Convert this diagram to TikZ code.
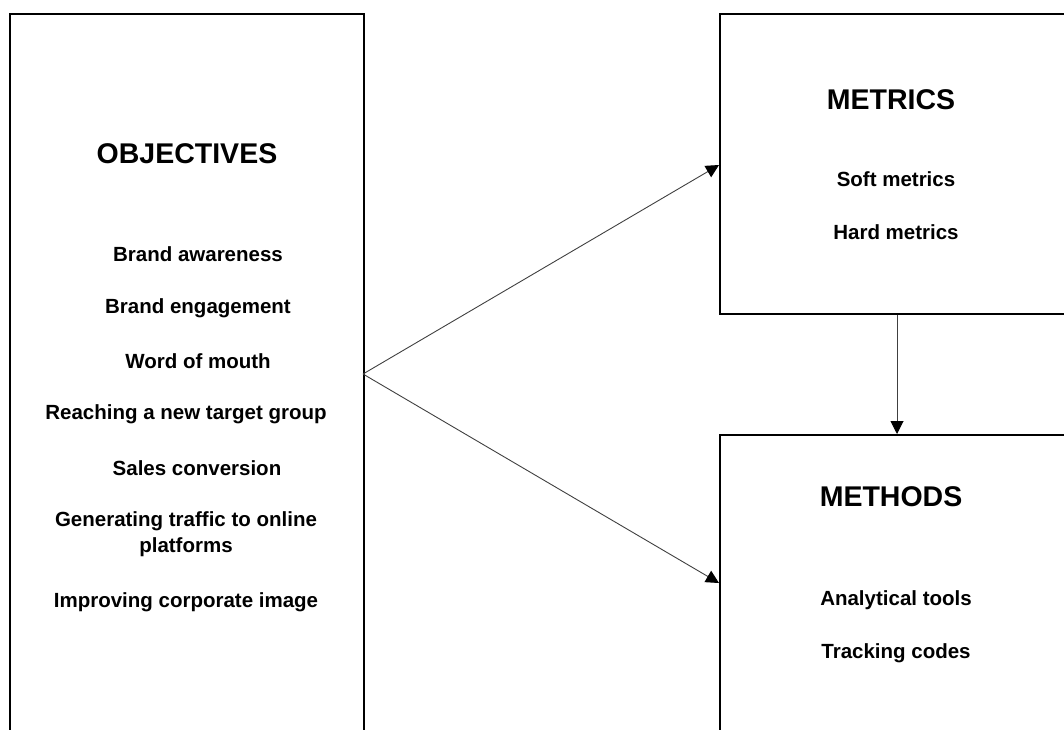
\documentclass[tikz,border=0pt]{standalone}
\usepackage{fontspec}
\setmainfont{Liberation Sans}
\usetikzlibrary{arrows.meta}

\tikzset{
  panel/.style={draw=black, line width=1.6pt, anchor=north west, inner sep=0pt},
  title/.style={font=\bfseries\fontsize{28.5}{33}\selectfont},
  item/.style={font=\bfseries\fontsize{20.5}{26}\selectfont, align=center},
  link/.style={draw=black!75, line width=0.9pt, -{Triangle[length=13pt,width=13pt,color=black]}}
}

\begin{document}
\begin{tikzpicture}[x=1pt, y=-1pt]

\useasboundingbox (0,0) rectangle (1064,729);
\clip (0,0) rectangle (1064,729);

% boxes
\node[panel, minimum width=354pt, minimum height=760pt] (objbox) at (9,13) {};
\node[panel, minimum width=380pt, minimum height=300pt] (metbox) at (719,13) {};
\node[panel, minimum width=380pt, minimum height=330pt] (mthbox) at (719,434) {};

% objectives
\node[title] (obj) at (187,154) {OBJECTIVES};
\node[item] (o1) at (198,254) {Brand awareness};
\node[item] (o2) at (198,308) {Brand engagement};
\node[item] (o3) at (198,361) {Word of mouth};
\node[item] (o4) at (186,414) {Reaching a new target group};
\node[item] (o5) at (197,468) {Sales conversion};
\node[item] (o6) at (186,534) {Generating traffic to online\\platforms};
\node[item] (o7) at (186,602) {Improving corporate image};

% metrics
\node[title] (met) at (891,100) {METRICS};
\node[item] (m1) at (896,179) {Soft metrics};
\node[item] (m2) at (896,232) {Hard metrics};

% methods
\node[title] (mth) at (891,497) {METHODS};
\node[item] (t1) at (896,600) {Analytical tools};
\node[item] (t2) at (896,653) {Tracking codes};

% connectors
\coordinate (hub) at (363,374);
\coordinate (metin) at (719,165);
\coordinate (mthin) at (719,583);
\draw[link] (hub) -- (metin);
\draw[link] (hub) -- (mthin);
\draw[link] (metbox.south west -| 897,0) -- (mthbox.north west -| 897,0);

\end{tikzpicture}
\end{document}
